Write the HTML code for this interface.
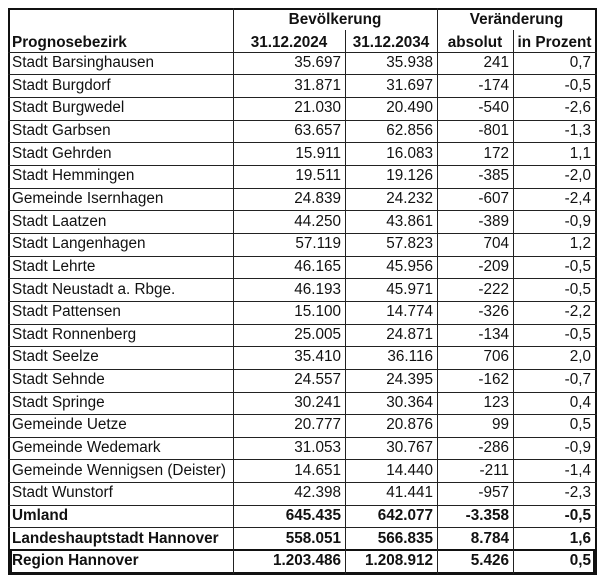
<!DOCTYPE html>
<html>
<head>
<meta charset="utf-8">
<style>
  html,body{margin:0;padding:0;background:#fff;}
  body{width:605px;height:585px;position:relative;overflow:hidden;
       font-family:"Liberation Sans",Arial,sans-serif;font-size:15.3px;color:#111;}
  .r{position:absolute;left:0;width:605px;height:22.65px;line-height:22.65px;}
  .r span{position:absolute;top:0;white-space:nowrap;}
  .c0{left:12px;}
  .c1{right:264px;text-align:right;}
  .c2{right:172px;text-align:right;}
  .c3{right:96px;text-align:right;}
  .c4{right:14px;text-align:right;}
  .b{font-weight:bold;}
  .h{position:absolute;left:8px;width:589px;height:1px;background:#222;}
  .v{position:absolute;width:1px;background:#222;}
  .t{position:absolute;white-space:nowrap;font-weight:bold;text-align:center;}
</style>
</head>
<body>
<div style="position:absolute;left:8px;top:8px;width:589px;height:2px;background:#111;"></div>
<div style="position:absolute;left:8px;top:8px;width:2px;height:567px;background:#111;"></div>
<div style="position:absolute;left:595px;top:8px;width:2px;height:567px;background:#111;"></div>
<div style="position:absolute;left:8px;top:572px;width:589px;height:3px;background:#111;"></div>
<div style="position:absolute;left:8px;top:549px;width:589px;height:2px;background:#111;"></div>
<div style="position:absolute;left:10px;top:549px;width:2px;height:26px;background:#111;"></div>
<div style="position:absolute;left:593px;top:549px;width:2px;height:26px;background:#111;"></div>

<div class="v" style="left:233px;top:8px;height:566px;"></div>
<div class="v" style="left:345px;top:30px;height:544px;"></div>
<div class="v" style="left:437px;top:8px;height:566px;"></div>
<div class="v" style="left:513px;top:30px;height:544px;"></div>

<div class="h" style="top:52px"></div>
<div class="h" style="top:74px"></div>
<div class="h" style="top:97px"></div>
<div class="h" style="top:120px"></div>
<div class="h" style="top:142px"></div>
<div class="h" style="top:165px"></div>
<div class="h" style="top:188px"></div>
<div class="h" style="top:210px"></div>
<div class="h" style="top:233px"></div>
<div class="h" style="top:256px"></div>
<div class="h" style="top:278px"></div>
<div class="h" style="top:301px"></div>
<div class="h" style="top:324px"></div>
<div class="h" style="top:346px"></div>
<div class="h" style="top:369px"></div>
<div class="h" style="top:392px"></div>
<div class="h" style="top:414px"></div>
<div class="h" style="top:437px"></div>
<div class="h" style="top:459px"></div>
<div class="h" style="top:482px"></div>
<div class="h" style="top:505px"></div>
<div class="h" style="top:527px"></div>

<div class="t" style="left:233px;width:204px;top:11px;line-height:17px;">Bevölkerung</div>
<div class="t" style="left:437px;width:159px;top:11px;line-height:17px;">Veränderung</div>
<div class="t" style="left:12px;top:34px;line-height:17px;text-align:left;">Prognosebezirk</div>
<div class="t" style="left:233px;width:112px;top:34px;line-height:17px;">31.12.2024</div>
<div class="t" style="left:345px;width:92px;top:34px;line-height:17px;">31.12.2034</div>
<div class="t" style="left:437px;width:76px;top:34px;line-height:17px;">absolut</div>
<div class="t" style="left:513px;width:83px;top:34px;line-height:17px;">in Prozent</div>

<div class="r" style="top:52px"><span class="c0">Stadt Barsinghausen</span><span class="c1">35.697</span><span class="c2">35.938</span><span class="c3">241</span><span class="c4">0,7</span></div>
<div class="r" style="top:74.65px"><span class="c0">Stadt Burgdorf</span><span class="c1">31.871</span><span class="c2">31.697</span><span class="c3">-174</span><span class="c4">-0,5</span></div>
<div class="r" style="top:97.3px"><span class="c0">Stadt Burgwedel</span><span class="c1">21.030</span><span class="c2">20.490</span><span class="c3">-540</span><span class="c4">-2,6</span></div>
<div class="r" style="top:119.95px"><span class="c0">Stadt Garbsen</span><span class="c1">63.657</span><span class="c2">62.856</span><span class="c3">-801</span><span class="c4">-1,3</span></div>
<div class="r" style="top:142.6px"><span class="c0">Stadt Gehrden</span><span class="c1">15.911</span><span class="c2">16.083</span><span class="c3">172</span><span class="c4">1,1</span></div>
<div class="r" style="top:165.25px"><span class="c0">Stadt Hemmingen</span><span class="c1">19.511</span><span class="c2">19.126</span><span class="c3">-385</span><span class="c4">-2,0</span></div>
<div class="r" style="top:187.9px"><span class="c0">Gemeinde Isernhagen</span><span class="c1">24.839</span><span class="c2">24.232</span><span class="c3">-607</span><span class="c4">-2,4</span></div>
<div class="r" style="top:210.55px"><span class="c0">Stadt Laatzen</span><span class="c1">44.250</span><span class="c2">43.861</span><span class="c3">-389</span><span class="c4">-0,9</span></div>
<div class="r" style="top:233.2px"><span class="c0">Stadt Langenhagen</span><span class="c1">57.119</span><span class="c2">57.823</span><span class="c3">704</span><span class="c4">1,2</span></div>
<div class="r" style="top:255.85px"><span class="c0">Stadt Lehrte</span><span class="c1">46.165</span><span class="c2">45.956</span><span class="c3">-209</span><span class="c4">-0,5</span></div>
<div class="r" style="top:278.5px"><span class="c0">Stadt Neustadt a. Rbge.</span><span class="c1">46.193</span><span class="c2">45.971</span><span class="c3">-222</span><span class="c4">-0,5</span></div>
<div class="r" style="top:301.15px"><span class="c0">Stadt Pattensen</span><span class="c1">15.100</span><span class="c2">14.774</span><span class="c3">-326</span><span class="c4">-2,2</span></div>
<div class="r" style="top:323.8px"><span class="c0">Stadt Ronnenberg</span><span class="c1">25.005</span><span class="c2">24.871</span><span class="c3">-134</span><span class="c4">-0,5</span></div>
<div class="r" style="top:346.45px"><span class="c0">Stadt Seelze</span><span class="c1">35.410</span><span class="c2">36.116</span><span class="c3">706</span><span class="c4">2,0</span></div>
<div class="r" style="top:369.1px"><span class="c0">Stadt Sehnde</span><span class="c1">24.557</span><span class="c2">24.395</span><span class="c3">-162</span><span class="c4">-0,7</span></div>
<div class="r" style="top:391.75px"><span class="c0">Stadt Springe</span><span class="c1">30.241</span><span class="c2">30.364</span><span class="c3">123</span><span class="c4">0,4</span></div>
<div class="r" style="top:414.4px"><span class="c0">Gemeinde Uetze</span><span class="c1">20.777</span><span class="c2">20.876</span><span class="c3">99</span><span class="c4">0,5</span></div>
<div class="r" style="top:437.05px"><span class="c0">Gemeinde Wedemark</span><span class="c1">31.053</span><span class="c2">30.767</span><span class="c3">-286</span><span class="c4">-0,9</span></div>
<div class="r" style="top:459.7px"><span class="c0">Gemeinde Wennigsen (Deister)</span><span class="c1">14.651</span><span class="c2">14.440</span><span class="c3">-211</span><span class="c4">-1,4</span></div>
<div class="r" style="top:482.35px"><span class="c0">Stadt Wunstorf</span><span class="c1">42.398</span><span class="c2">41.441</span><span class="c3">-957</span><span class="c4">-2,3</span></div>
<div class="r b" style="top:505px"><span class="c0">Umland</span><span class="c1">645.435</span><span class="c2">642.077</span><span class="c3">-3.358</span><span class="c4">-0,5</span></div>
<div class="r b" style="top:527.65px"><span class="c0">Landeshauptstadt Hannover</span><span class="c1">558.051</span><span class="c2">566.835</span><span class="c3">8.784</span><span class="c4">1,6</span></div>
<div class="r b" style="top:550.3px"><span class="c0">Region Hannover</span><span class="c1">1.203.486</span><span class="c2">1.208.912</span><span class="c3">5.426</span><span class="c4">0,5</span></div>
</body>
</html>
